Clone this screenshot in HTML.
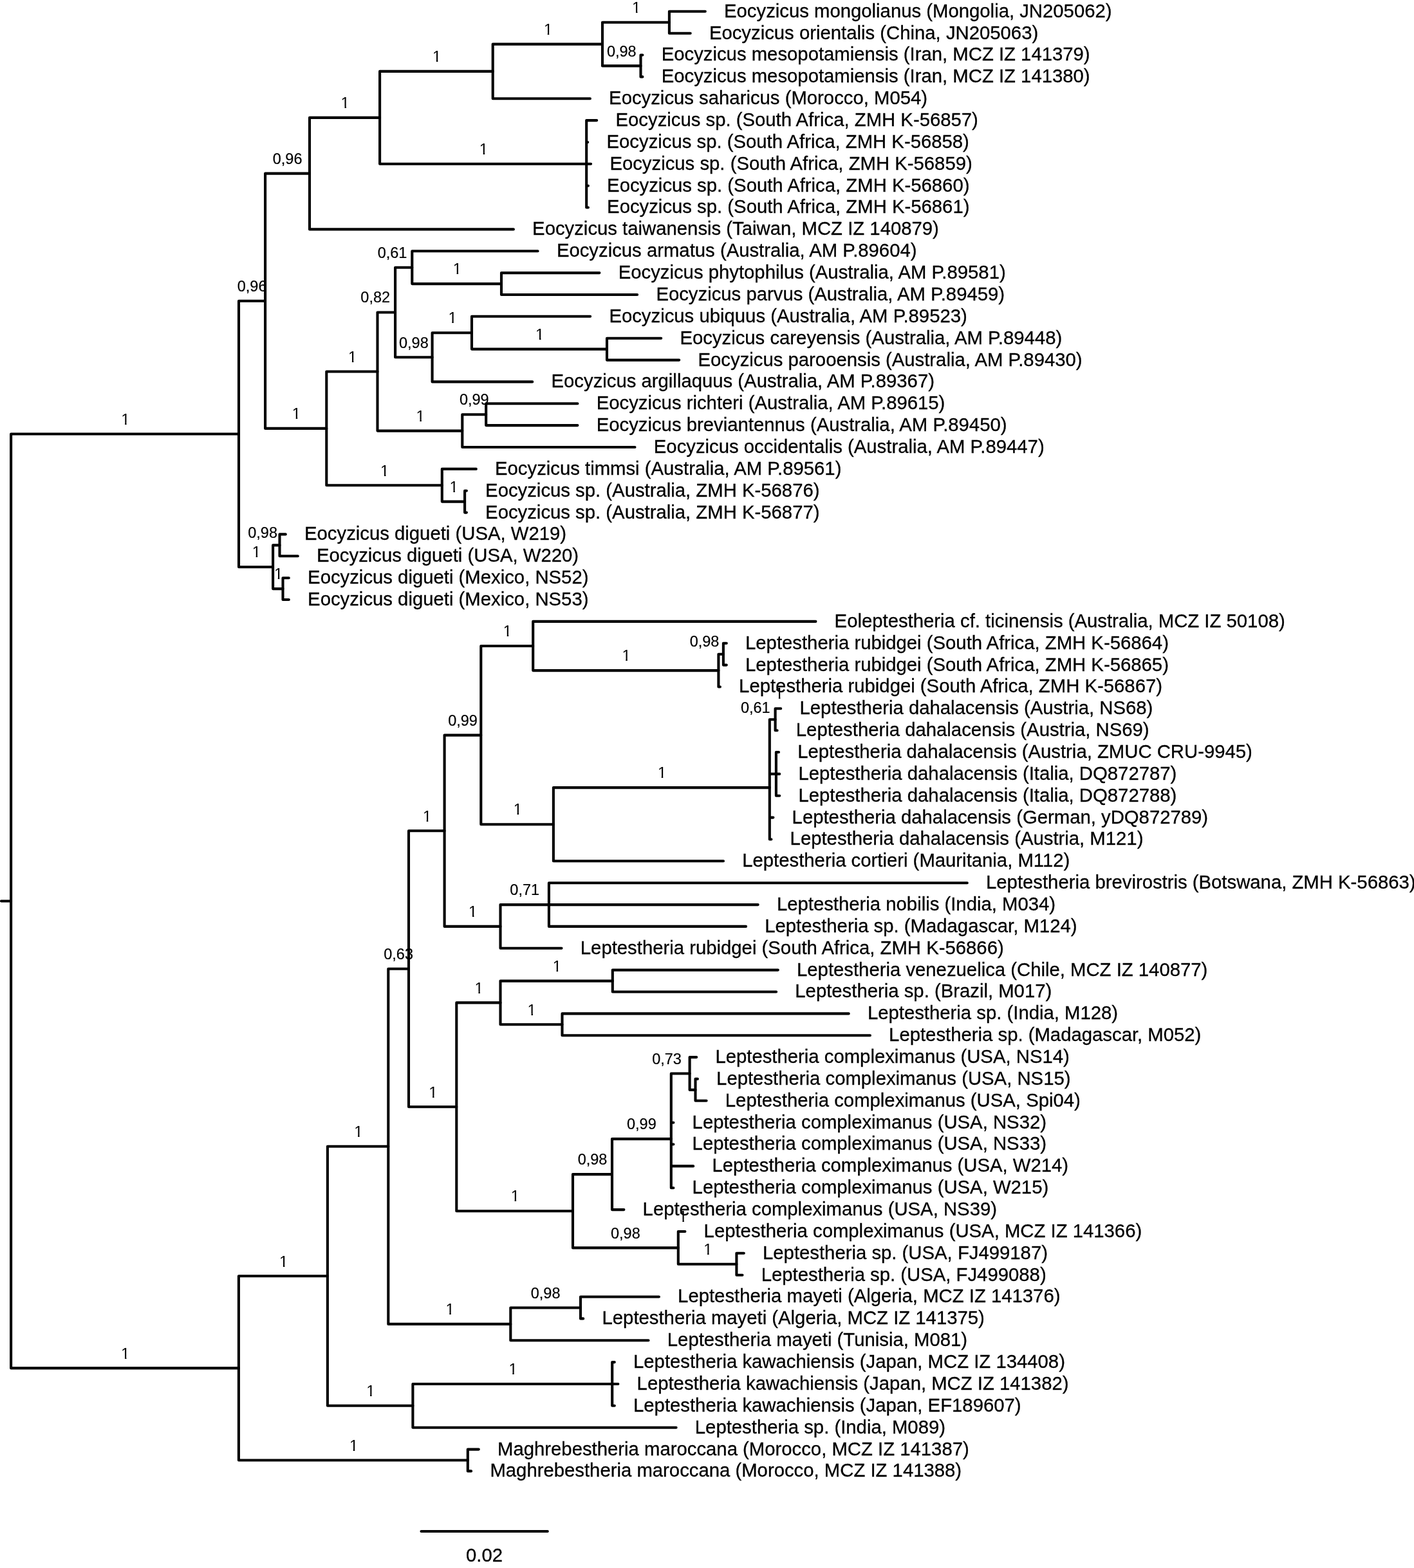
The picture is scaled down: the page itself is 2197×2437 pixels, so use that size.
<!DOCTYPE html>
<html lang="en"><head><meta charset="utf-8"><title>Phylogenetic tree</title>
<style>
html,body{margin:0;padding:0;background:#fff}
body{width:2197px;height:2437px;overflow:hidden}
svg{display:block}
.t{font-family:"Liberation Sans",Arial,Helvetica,sans-serif;font-size:29.3px;fill:#000;stroke:#000;stroke-width:0.3px}
.s{font-family:"Liberation Sans",Arial,Helvetica,sans-serif;font-size:23.5px;fill:#000;stroke:#000;stroke-width:0.2px;text-anchor:middle}
.o{font-size:24px;stroke-width:0}
.b{fill:none;stroke:#000;stroke-width:4.1;stroke-linecap:round;stroke-linejoin:round}
</style></head><body>
<svg width="2197" height="2437" viewBox="0 0 2197 2437">
<rect width="2197" height="2437" fill="#fff"/>
<defs><clipPath id="nf" clipPathUnits="objectBoundingBox"><path d="M0,0H1V0.728H0.625V0.83H0.44V0.728H0Z"/></clipPath></defs>
<g class="b">
<path d="M1095.8,17.8H1039.9V51.7H1072.7"/>
<path d="M998.4,85.5H995.5V119.4H998.4"/>
<path d="M1039.9,34.7H936.0V102.4H995.5"/>
<path d="M936.0,68.6H765.7V153.2H916.9"/>
<path d="M927.2,187.1H911.2V322.5H913.9M911.2,221.0H913.2M911.2,254.8H918.1M911.2,288.7H913.9"/>
<path d="M765.7,110.9H590.1V254.8H911.2"/>
<path d="M590.1,182.9H481.0V356.4H797.9"/>
<path d="M931.4,424.1H779.0V458.0H990.1"/>
<path d="M835.6,390.3H640.3V441.1H779.0"/>
<path d="M1027.2,525.7H943.0V559.6H1055.2"/>
<path d="M917.1,491.8H733.0V542.6H943.0"/>
<path d="M733.0,517.2H671.6V593.4H827.2"/>
<path d="M640.3,415.7H614.1V555.3H671.6"/>
<path d="M897.4,627.3H755.2V661.1H897.4"/>
<path d="M755.2,644.2H718.3V695.0H986.5"/>
<path d="M614.1,485.5H586.5V669.6H718.3"/>
<path d="M724.9,762.7H722.1V796.6H724.9"/>
<path d="M739.8,728.9H686.8V779.6H722.1"/>
<path d="M586.5,577.5H507.3V754.3H686.8"/>
<path d="M481.0,269.6H412.1V665.9H507.3"/>
<path d="M443.8,830.4H434.5V864.3H462.8"/>
<path d="M448.8,898.2H439.5V932.0H448.8"/>
<path d="M434.5,847.4H424.1V915.1H439.5"/>
<path d="M412.1,467.8H371.0V881.2H424.1"/>
<path d="M1128.8,999.7H1123.9V1033.6H1128.8"/>
<path d="M1123.9,1016.7H1116.4V1067.5H1118.9"/>
<path d="M1267.4,965.9H828.2V1042.1H1116.4"/>
<path d="M1213.2,1101.3H1204.6V1135.2H1207.6"/>
<path d="M1210.0,1169.0H1205.9V1236.8H1211.2M1205.9,1202.9H1211.2"/>
<path d="M1204.6,1118.2H1195.8V1304.5H1198.4M1195.8,1202.9H1205.9M1195.8,1270.6H1201.4"/>
<path d="M1195.8,1224.1H859.9V1338.3H1124.0"/>
<path d="M828.2,1004.0H747.3V1281.2H859.9"/>
<path d="M1502.8,1372.2H852.9V1439.9H1159.0M852.9,1406.1H1177.7"/>
<path d="M852.9,1406.1H777.5V1473.8H872.5"/>
<path d="M747.3,1142.6H690.6V1439.9H777.5"/>
<path d="M1208.8,1507.6H951.8V1541.5H1206.1"/>
<path d="M1318.7,1575.4H873.5V1609.2H1351.9"/>
<path d="M951.8,1524.6H777.5V1592.3H873.5"/>
<path d="M1083.9,1676.9H1080.5V1710.8H1097.6"/>
<path d="M1082.2,1643.1H1071.6V1693.9H1080.5"/>
<path d="M1071.6,1668.5H1042.8V1846.2H1046.4M1042.8,1744.7H1046.4M1042.8,1778.5H1046.4M1042.8,1812.4H1077.2"/>
<path d="M1042.8,1770.1H951.0V1880.1H969.4"/>
<path d="M1155.8,1947.8H1144.4V1981.7H1153.5"/>
<path d="M1064.4,1914.0H1053.8V1964.8H1144.4"/>
<path d="M951.0,1825.1H890.0V1939.4H1053.8"/>
<path d="M777.5,1558.4H709.3V1882.2H890.0"/>
<path d="M690.6,1291.3H635.0V1720.3H709.3"/>
<path d="M1023.9,2015.5H902.0V2049.4H906.2"/>
<path d="M902.0,2032.5H793.3V2083.3H1007.5"/>
<path d="M635.0,1505.8H603.3V2057.9H793.3"/>
<path d="M954.8,2117.1H951.2V2184.8H954.8M951.2,2151.0H960.4"/>
<path d="M951.2,2151.0H641.4V2218.7H1050.6"/>
<path d="M603.3,1781.8H508.9V2184.8H641.4"/>
<path d="M743.8,2252.6H726.8V2286.4H732.1"/>
<path d="M508.9,1983.3H370.9V2269.5H726.8"/>
<path d="M371.0,674.5H17.1V2126.4H370.9"/>
<path d="M2,1400.5H17.1"/>
<path d="M654.5,2380H850.8"/>
</g>
<g class="t">
<text x="1125.0" y="26.7">Eocyzicus mongolianus (Mongolia, JN205062)</text>
<text x="1101.9" y="60.6">Eocyzicus orientalis (China, JN205063)</text>
<text x="1027.7" y="94.4">Eocyzicus mesopotamiensis (Iran, MCZ IZ 141379)</text>
<text x="1027.7" y="128.3">Eocyzicus mesopotamiensis (Iran, MCZ IZ 141380)</text>
<text x="946.1" y="162.1">Eocyzicus saharicus (Morocco, M054)</text>
<text x="956.5" y="196.0">Eocyzicus sp. (South Africa, ZMH K-56857)</text>
<text x="942.5" y="229.9">Eocyzicus sp. (South Africa, ZMH K-56858)</text>
<text x="947.4" y="263.7">Eocyzicus sp. (South Africa, ZMH K-56859)</text>
<text x="943.1" y="297.6">Eocyzicus sp. (South Africa, ZMH K-56860)</text>
<text x="943.1" y="331.4">Eocyzicus sp. (South Africa, ZMH K-56861)</text>
<text x="827.1" y="365.3">Eocyzicus taiwanensis (Taiwan, MCZ IZ 140879)</text>
<text x="864.9" y="399.2">Eocyzicus armatus (Australia, AM P.89604)</text>
<text x="960.7" y="433.0">Eocyzicus phytophilus (Australia, AM P.89581)</text>
<text x="1019.4" y="466.9">Eocyzicus parvus (Australia, AM P.89459)</text>
<text x="946.4" y="500.7">Eocyzicus ubiquus (Australia, AM P.89523)</text>
<text x="1056.4" y="534.6">Eocyzicus careyensis (Australia, AM P.89448)</text>
<text x="1084.5" y="568.5">Eocyzicus parooensis (Australia, AM P.89430)</text>
<text x="856.5" y="602.3">Eocyzicus argillaquus (Australia, AM P.89367)</text>
<text x="926.7" y="636.2">Eocyzicus richteri (Australia, AM P.89615)</text>
<text x="926.7" y="670.0">Eocyzicus breviantennus (Australia, AM P.89450)</text>
<text x="1015.8" y="703.9">Eocyzicus occidentalis (Australia, AM P.89447)</text>
<text x="769.0" y="737.8">Eocyzicus timmsi (Australia, AM P.89561)</text>
<text x="754.1" y="771.6">Eocyzicus sp. (Australia, ZMH K-56876)</text>
<text x="754.1" y="805.5">Eocyzicus sp. (Australia, ZMH K-56877)</text>
<text x="473.0" y="839.3">Eocyzicus digueti (USA, W219)</text>
<text x="492.0" y="873.2">Eocyzicus digueti (USA, W220)</text>
<text x="478.1" y="907.1">Eocyzicus digueti (Mexico, NS52)</text>
<text x="478.1" y="940.9">Eocyzicus digueti (Mexico, NS53)</text>
<text x="1296.6" y="974.8">Eoleptestheria cf. ticinensis (Australia, MCZ IZ 50108)</text>
<text x="1158.0" y="1008.6">Leptestheria rubidgei (South Africa, ZMH K-56864)</text>
<text x="1158.0" y="1042.5">Leptestheria rubidgei (South Africa, ZMH K-56865)</text>
<text x="1148.1" y="1076.4">Leptestheria rubidgei (South Africa, ZMH K-56867)</text>
<text x="1242.5" y="1110.2">Leptestheria dahalacensis (Austria, NS68)</text>
<text x="1236.8" y="1144.1">Leptestheria dahalacensis (Austria, NS69)</text>
<text x="1239.2" y="1177.9">Leptestheria dahalacensis (Austria, ZMUC CRU-9945)</text>
<text x="1240.4" y="1211.8">Leptestheria dahalacensis (Italia, DQ872787)</text>
<text x="1240.4" y="1245.7">Leptestheria dahalacensis (Italia, DQ872788)</text>
<text x="1230.6" y="1279.5">Leptestheria dahalacensis (German, yDQ872789)</text>
<text x="1227.6" y="1313.4">Leptestheria dahalacensis (Austria, M121)</text>
<text x="1153.2" y="1347.2">Leptestheria cortieri (Mauritania, M112)</text>
<text x="1532.0" y="1381.1">Leptestheria brevirostris (Botswana, ZMH K-56863)</text>
<text x="1206.9" y="1415.0">Leptestheria nobilis (India, M034)</text>
<text x="1188.2" y="1448.8">Leptestheria sp. (Madagascar, M124)</text>
<text x="901.8" y="1482.7">Leptestheria rubidgei (South Africa, ZMH K-56866)</text>
<text x="1238.0" y="1516.5">Leptestheria venezuelica (Chile, MCZ IZ 140877)</text>
<text x="1235.3" y="1550.4">Leptestheria sp. (Brazil, M017)</text>
<text x="1347.9" y="1584.3">Leptestheria sp. (India, M128)</text>
<text x="1381.1" y="1618.1">Leptestheria sp. (Madagascar, M052)</text>
<text x="1111.4" y="1652.0">Leptestheria compleximanus (USA, NS14)</text>
<text x="1113.1" y="1685.8">Leptestheria compleximanus (USA, NS15)</text>
<text x="1126.8" y="1719.7">Leptestheria compleximanus (USA, Spi04)</text>
<text x="1075.6" y="1753.6">Leptestheria compleximanus (USA, NS32)</text>
<text x="1075.6" y="1787.4">Leptestheria compleximanus (USA, NS33)</text>
<text x="1106.5" y="1821.3">Leptestheria compleximanus (USA, W214)</text>
<text x="1075.6" y="1855.1">Leptestheria compleximanus (USA, W215)</text>
<text x="998.6" y="1889.0">Leptestheria compleximanus (USA, NS39)</text>
<text x="1093.6" y="1922.9">Leptestheria compleximanus (USA, MCZ IZ 141366)</text>
<text x="1185.0" y="1956.7">Leptestheria sp. (USA, FJ499187)</text>
<text x="1182.7" y="1990.6">Leptestheria sp. (USA, FJ499088)</text>
<text x="1053.1" y="2024.4">Leptestheria mayeti (Algeria, MCZ IZ 141376)</text>
<text x="935.5" y="2058.3">Leptestheria mayeti (Algeria, MCZ IZ 141375)</text>
<text x="1036.8" y="2092.2">Leptestheria mayeti (Tunisia, M081)</text>
<text x="984.0" y="2126.0">Leptestheria kawachiensis (Japan, MCZ IZ 134408)</text>
<text x="989.6" y="2159.9">Leptestheria kawachiensis (Japan, MCZ IZ 141382)</text>
<text x="984.0" y="2193.7">Leptestheria kawachiensis (Japan, EF189607)</text>
<text x="1079.8" y="2227.6">Leptestheria sp. (India, M089)</text>
<text x="773.0" y="2261.5">Maghrebestheria maroccana (Morocco, MCZ IZ 141387)</text>
<text x="761.4" y="2295.3">Maghrebestheria maroccana (Morocco, MCZ IZ 141388)</text>
<text x="752.5" y="2426.5" text-anchor="middle">0.02</text>
</g>
<g class="s">
<text class="o" clip-path="url(#nf)" x="988.8" y="19.9">1</text>
<text x="965.8" y="87.6">0,98</text>
<text class="o" clip-path="url(#nf)" x="851.6" y="53.8">1</text>
<text class="o" clip-path="url(#nf)" x="678.7" y="96.1">1</text>
<text class="o" clip-path="url(#nf)" x="751.5" y="240.0">1</text>
<text class="o" clip-path="url(#nf)" x="536.3" y="168.1">1</text>
<text x="446.6" y="254.8">0,96</text>
<text class="o" clip-path="url(#nf)" x="710.4" y="426.2">1</text>
<text x="609.5" y="400.5">0,61</text>
<text class="o" clip-path="url(#nf)" x="838.8" y="527.8">1</text>
<text class="o" clip-path="url(#nf)" x="703.1" y="502.4">1</text>
<text x="642.9" y="540.5">0,98</text>
<text x="583.2" y="470.2">0,82</text>
<text x="736.8" y="629.4">0,99</text>
<text class="o" clip-path="url(#nf)" x="653.2" y="654.8">1</text>
<text class="o" clip-path="url(#nf)" x="547.7" y="562.7">1</text>
<text class="o" clip-path="url(#nf)" x="705.2" y="764.8">1</text>
<text class="o" clip-path="url(#nf)" x="597.8" y="739.5">1</text>
<text class="o" clip-path="url(#nf)" x="460.5" y="651.1">1</text>
<text x="391.6" y="453.0">0,96</text>
<text x="408.1" y="836.2">0,98</text>
<text class="o" clip-path="url(#nf)" x="432.6" y="900.3">1</text>
<text class="o" clip-path="url(#nf)" x="398.4" y="866.4">1</text>
<text class="o" clip-path="url(#nf)" x="194.9" y="659.7">1</text>
<text x="1094.5" y="1005.0">0,98</text>
<text class="o" clip-path="url(#nf)" x="973.1" y="1027.3">1</text>
<text class="o" clip-path="url(#nf)" x="788.5" y="989.2">1</text>
<text x="1173.8" y="1107.7">0,61</text>
<text class="o" clip-path="url(#nf)" x="1028.6" y="1209.3">1</text>
<text class="o" clip-path="url(#nf)" x="804.4" y="1266.4">1</text>
<text x="719.0" y="1127.8">0,99</text>
<text x="815.2" y="1391.3">0,71</text>
<text class="o" clip-path="url(#nf)" x="734.8" y="1425.1">1</text>
<text class="o" clip-path="url(#nf)" x="663.6" y="1276.5">1</text>
<text class="o" clip-path="url(#nf)" x="865.4" y="1509.8">1</text>
<text class="o" clip-path="url(#nf)" x="826.3" y="1577.5">1</text>
<text class="o" clip-path="url(#nf)" x="744.2" y="1543.6">1</text>
<text x="1036.0" y="1653.5">0,73</text>
<text x="996.9" y="1755.3">0,99</text>
<text x="920.5" y="1810.3">0,98</text>
<text class="o" clip-path="url(#nf)" x="1099.9" y="1950.0">1</text>
<text x="971.9" y="1924.6">0,98</text>
<text class="o" clip-path="url(#nf)" x="800.4" y="1867.4">1</text>
<text class="o" clip-path="url(#nf)" x="672.9" y="1705.5">1</text>
<text x="619.1" y="1491.0">0,63</text>
<text x="847.6" y="2017.7">0,98</text>
<text class="o" clip-path="url(#nf)" x="699.1" y="2043.1">1</text>
<text class="o" clip-path="url(#nf)" x="556.9" y="1767.0">1</text>
<text class="o" clip-path="url(#nf)" x="797.1" y="2136.2">1</text>
<text class="o" clip-path="url(#nf)" x="575.9" y="2170.0">1</text>
<text class="o" clip-path="url(#nf)" x="440.7" y="1968.5">1</text>
<text class="o" clip-path="url(#nf)" x="549.6" y="2254.7">1</text>
<text class="o" clip-path="url(#nf)" x="194.8" y="2111.6">1</text>
<text class="o" clip-path="url(#nf)" x="1210.7" y="1086.3">1</text>
<text class="o" clip-path="url(#nf)" x="1061.2" y="1898.5">1</text>
</g>
</svg>
</body></html>
